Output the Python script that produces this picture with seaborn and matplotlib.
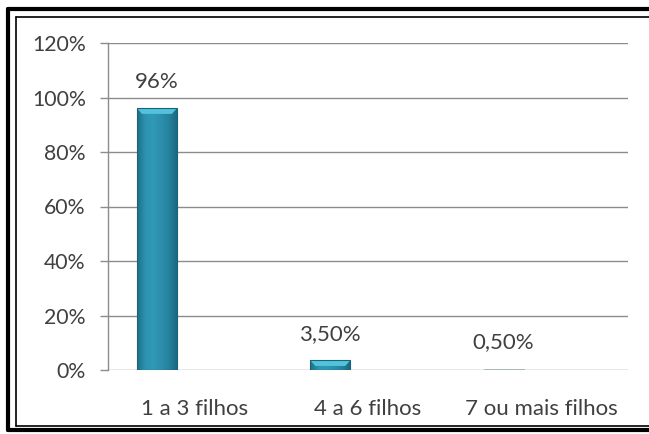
import matplotlib
matplotlib.use("Agg")
import matplotlib.pyplot as plt
from matplotlib.lines import Line2D
from matplotlib.patches import Polygon
from matplotlib.colors import LinearSegmentedColormap
import numpy as np
import pandas as pd
import seaborn as sns

# Number of children per respondent (percent)
categories = ["1 a 3 filhos", "4 a 6 filhos", "7 ou mais filhos"]
values = [96, 3.5, 0.5]
value_labels = ["96%", "3,50%", "0,50%"]
y_ticks = [0, 20, 40, 60, 80, 100, 120]
y_tick_labels = ["0%", "20%", "40%", "60%", "80%", "100%", "120%"]

sns.set_theme(style="white")
plt.rcParams["font.family"] = ["Lato", "DejaVu Sans"]
FS_Y = 15.3
FS_X = 16
TXT = "#404040"

W, H = 649, 434
fig = plt.figure(figsize=(W / 100, H / 100), dpi=100)
fig.patch.set_facecolor("white")
ax = fig.add_axes([108 / W, (H - 370) / H, (628 - 108) / W, (370 - 43) / H])

df = pd.DataFrame({"cat": categories, "val": values})
BAR_W = 0.23
SHIFT = -0.2175
sns.barplot(data=df, x="cat", y="val", width=BAR_W, color="#2C90AC",
            edgecolor="#1B6278", linewidth=0.8, ax=ax, zorder=3)
bars = list(ax.patches)

ax.set_xlim(-0.5, 2.5)
ax.set_ylim(0, 120)

# Shaded fill for each column: darker sides, bright bevelled top
body = LinearSegmentedColormap.from_list(
    "body", ["#1d6f87", "#2d93b0", "#3099b5", "#2c8fab", "#26839e", "#1b6880"])
grad = np.linspace(0, 1, 64).reshape(1, -1)
unit_x = 1 / 173.3   # data units per pixel along x
unit_y = 120 / 327   # data units per pixel along y
for p in bars:
    p.set_x(p.get_x() + SHIFT)
    x0, y0 = p.get_x(), p.get_y()
    w, h = p.get_width(), p.get_height()
    if h < 2:
        # a sliver of a column reads as a faint grey line
        p.set_facecolor("#b5c3c8")
        p.set_edgecolor("#9aa9ae")
        p.set_linewidth(0.5)
        continue
    im = ax.imshow(grad, cmap=body, aspect="auto", extent=[x0, x0 + w, y0, y0 + h],
                   zorder=3.5, interpolation="bicubic")
    im.set_clip_path(p)
    p.set_facecolor("none")
    p.set_zorder(4)
    bh = min(5.5 * unit_y, h * 0.7)
    inset = min(5 * unit_x, bh / unit_y * unit_x)
    top = y0 + h
    bevel = Polygon([[x0, top], [x0 + w, top], [x0 + w - inset, top - bh],
                     [x0 + inset, top - bh]], closed=True,
                    facecolor="#52c3dc", edgecolor="none", zorder=3.6)
    ax.add_patch(bevel)

for p, lab in zip(bars, value_labels):
    ax.annotate(lab, (p.get_x() + p.get_width() / 2, p.get_height()),
                xytext=(0, 12), textcoords="offset points",
                ha="center", va="bottom", fontsize=FS_X, color=TXT)

ax.set_yticks(y_ticks)
ax.set_yticklabels(y_tick_labels)
ax.yaxis.grid(True, color="#8c8c8c", linewidth=1.0, zorder=0)
ax.set_axisbelow(True)
ax.set_xlabel("")
ax.set_ylabel("")
for s in ["top", "right", "bottom"]:
    ax.spines[s].set_visible(False)
ax.spines["left"].set_color("#8c8c8c")
ax.spines["left"].set_linewidth(1.0)
ax.tick_params(axis="y", which="major", left=True, length=6, width=1.0,
               color="#8c8c8c", pad=10, labelsize=FS_Y, labelcolor=TXT)
ax.tick_params(axis="x", bottom=False, pad=15, labelsize=FS_X, labelcolor=TXT)

# Double frame around the chart
def fx(px):
    return px / W

def fy(py):
    return 1 - py / H

for (xl, yt, yb, lw) in [(8, 9, 430, 3.0), (16, 17, 426, 1.2)]:
    fig.add_artist(Line2D([fx(xl), fx(xl)], [fy(yt), fy(yb)], color="black", lw=lw))
    fig.add_artist(Line2D([fx(xl), fx(W + 5)], [fy(yt), fy(yt)], color="black", lw=lw))
    fig.add_artist(Line2D([fx(xl), fx(W + 5)], [fy(yb), fy(yb)], color="black", lw=lw))

fig.savefig("out.png", dpi=100, facecolor="white")
